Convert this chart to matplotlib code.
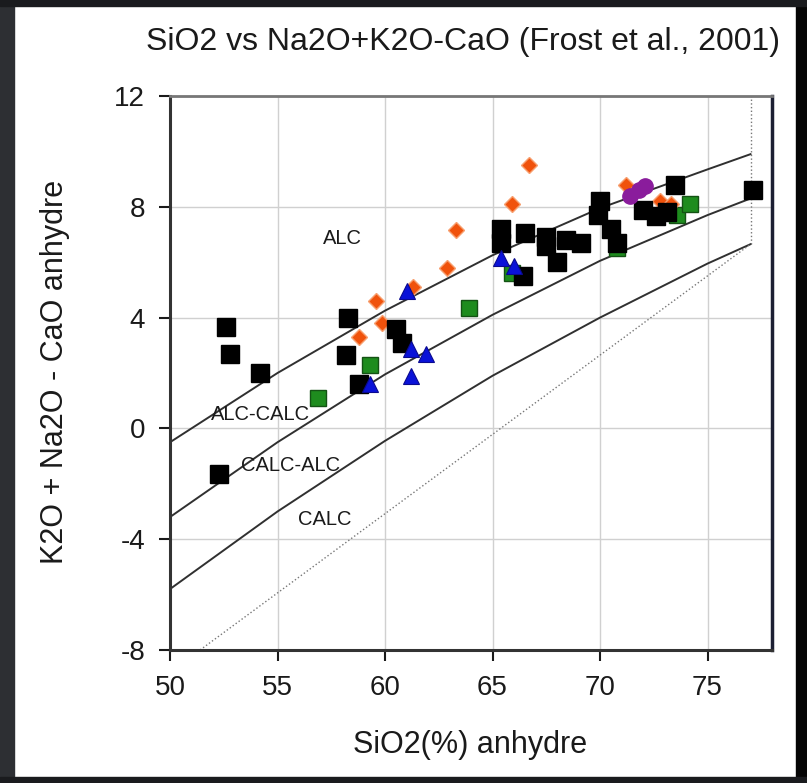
import matplotlib
matplotlib.use("Agg")
import matplotlib.pyplot as plt
from matplotlib.patches import Rectangle

plt.rcParams['font.family'] = ['Liberation Sans', 'DejaVu Sans']
plt.rcParams['axes.unicode_minus'] = False

# boundary curves (Frost et al., 2001)
bound_x = [50, 55, 60, 65, 70, 75, 77]
alc_alccalc = [-0.5, 2.0, 4.25, 6.25, 7.95, 9.35, 9.9]
alccalc_calcalc = [-3.2, -0.5, 1.95, 4.1, 6.05, 7.7, 8.3]
calcalc_calc = [-5.8, -3.0, -0.45, 1.9, 4.0, 5.95, 6.65]
calc_low_x = [51.4, 77]
calc_low_y = [-8, 6.65]
edge_x = [77, 77]
edge_y = [6.65, 12]

# samples
black_x = [52.6, 52.8, 54.2, 52.3, 58.3, 58.2, 58.8, 60.5, 60.8, 65.4,
           65.4, 66.5, 66.4, 67.5, 67.5, 68.0, 68.4, 69.1, 70.0, 69.9,
           70.5, 70.8, 72.0, 72.6, 73.1, 73.5, 77.1]
black_y = [3.65, 2.7, 2.0, -1.65, 4.0, 2.65, 1.6, 3.6, 3.1, 7.2,
           6.7, 7.05, 5.5, 6.9, 6.6, 6.0, 6.8, 6.7, 8.2, 7.7,
           7.2, 6.7, 7.9, 7.65, 7.8, 8.8, 8.6]
green_x = [56.9, 59.3, 63.9, 65.9, 70.8, 73.6, 74.2]
green_y = [1.1, 2.3, 4.35, 5.6, 6.5, 7.7, 8.1]
blue_x = [59.3, 61.0, 61.2, 61.9, 61.2, 65.4, 66.0]
blue_y = [1.6, 4.95, 2.85, 2.7, 1.9, 6.15, 5.85]
orange_x = [58.8, 59.6, 59.85, 61.3, 62.9, 63.3, 65.9, 66.7, 71.2, 72.8, 73.3]
orange_y = [3.3, 4.6, 3.8, 5.1, 5.8, 7.15, 8.1, 9.5, 8.8, 8.2, 8.1]
purple_x = [71.4, 71.8, 72.1]
purple_y = [8.4, 8.6, 8.75]

x_ticks = [50, 55, 60, 65, 70, 75]
y_ticks = [-8, -4, 0, 4, 8, 12]

fields = ["ALC", "ALC-CALC", "CALC-ALC", "CALC"]
field_x = [58.0, 54.2, 55.6, 57.2]
field_y = [6.85, 0.5, -1.35, -3.3]


def frame(fig):
    """dark screenshot border around the white panel"""
    fig.patches.append(Rectangle((0, 0), 14 / 807, 1, color='#2d2f33',
                                 transform=fig.transFigure, zorder=0))
    fig.patches.append(Rectangle((796 / 807, 0), 11 / 807, 1, color='#050505',
                                 transform=fig.transFigure, zorder=0))
    fig.patches.append(Rectangle((0, 1 - 6 / 783), 1, 6 / 783, color='#1a1b1e',
                                 transform=fig.transFigure, zorder=0))
    fig.patches.append(Rectangle((0, 0), 1, 6 / 783, color='#1a1b1e',
                                 transform=fig.transFigure, zorder=0))


def main():
    fig = plt.figure(figsize=(8.07, 7.83), dpi=100, facecolor='white')
    frame(fig)
    ax = fig.add_axes([170 / 807, 133 / 783, 602 / 807, 554 / 783])

    ax.set_xlim(50, 78)
    ax.set_ylim(-8, 12)
    ax.set_xticks(x_ticks)
    ax.set_yticks(y_ticks)
    ax.grid(True, color='#d0d0d0', lw=1.0)
    ax.set_axisbelow(True)
    ax.tick_params(direction='out', length=8, width=1.5, labelsize=20,
                   colors='#1a1a1a', pad=10)
    for side in ['left', 'bottom']:
        ax.spines[side].set_linewidth(2.2)
        ax.spines[side].set_color('#333333')
    ax.spines['top'].set_linewidth(2.0)
    ax.spines['top'].set_color('#777777')
    ax.spines['right'].set_linewidth(2.5)
    ax.spines['right'].set_color('#1c1f33')

    # boundaries
    for yy in [alc_alccalc, alccalc_calcalc, calcalc_calc]:
        ax.plot(bound_x, yy, color='#303030', lw=1.4, zorder=2)
    ax.plot(calc_low_x, calc_low_y, color='#777777', lw=1.0, ls=':', zorder=2)
    ax.plot(edge_x, edge_y, color='#777777', lw=1.0, ls=':', zorder=2)

    for name, fx, fy in zip(fields, field_x, field_y):
        ax.text(fx, fy, name, fontsize=14.5, color='#1a1a1a',
                ha='center', va='center', zorder=3)

    ax.plot(green_x, green_y, 's', ms=12, color='#1e8c1e',
            mec='#145214', mew=1, zorder=4)
    ax.plot(orange_x, orange_y, 'D', ms=8, color='#f0520c',
            mec='#f7a070', mew=1, zorder=5)
    ax.plot(black_x, black_y, 's', ms=13, color='black', zorder=6)
    ax.plot(purple_x, purple_y, 'o', ms=11, color='#8a1c9c', zorder=7)
    ax.plot(blue_x, blue_y, '^', ms=12, color='#0a12d8',
            mec='#0a0a90', mew=0.8, zorder=8)

    fig.text(0.574, 0.946, "SiO2 vs Na2O+K2O-CaO (Frost et al., 2001)",
             fontsize=23, color='#1a1a1a', ha='center', va='center')
    fig.text(0.582, 0.049, "SiO2(%) anhydre", fontsize=22,
             color='#1a1a1a', ha='center', va='center')
    fig.text(0.068, 0.525, "K2O + Na2O - CaO anhydre", fontsize=22,
             color='#1a1a1a', ha='center', va='center', rotation=90)

    fig.savefig("out.png", dpi=100, facecolor=fig.get_facecolor())


if __name__ == "__main__":
    main()
